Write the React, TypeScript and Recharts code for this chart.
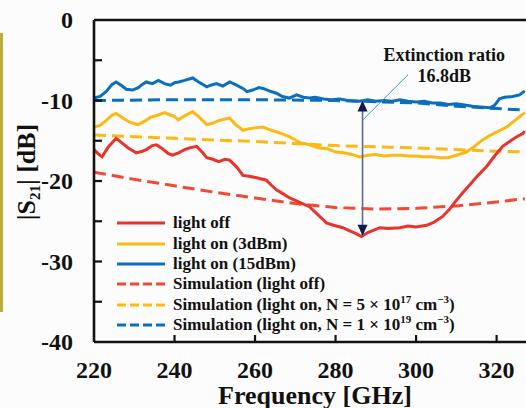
import React from 'react';
import { LineChart, Line, XAxis, YAxis, ReferenceLine, ReferenceDot } from 'recharts';

const FONT = "'Liberation Serif', 'Times New Roman', serif";

const xTicks = [220, 240, 260, 280, 300, 320];
const yTicks = [-40, -35, -30, -25, -20, -15, -10, -5, 0];

const blueSolid: [number, number][] = [
  [220, -9.7], [221.5, -9.5], [223, -8.9], [224.5, -8.0], [225.5, -7.7], [227, -8.2], [228, -8.6], [229.6, -8.7],
  [231, -8.4], [232, -8.0], [233, -7.7], [234.5, -7.9], [236, -7.5], [237.5, -7.9], [239, -8.1], [240, -7.8],
  [241, -7.7], [242.5, -7.5], [244.5, -7.2], [246, -7.7], [248, -8.3], [249, -8.1], [250.4, -7.9], [252, -8.2],
  [253.7, -7.7], [255, -8.0], [257, -8.5], [258, -8.9], [259.4, -8.7], [261, -8.4], [262, -8.5], [263.5, -8.8],
  [265.3, -9.1], [266.8, -9.5], [268.5, -9.7], [270.3, -9.3], [272, -9.6], [273.5, -9.7], [275, -9.6], [277, -9.8],
  [279, -9.9], [281, -9.8], [283, -10.0], [286, -10.1], [288, -9.9], [290, -10.1], [292, -10.0], [294, -10.1],
  [296, -9.9], [298, -10.1], [300, -10.2], [302, -10.1], [304, -10.3], [306, -10.3], [308, -10.5], [310, -10.4],
  [312.5, -10.6], [314, -10.7], [316, -10.8], [318.3, -10.9], [319.5, -10.6], [320.7, -9.8], [322, -9.6],
  [324, -9.5], [325.7, -9.3], [327, -8.8],
];

const yellowSolid: [number, number][] = [
  [220, -13.3], [221.5, -13.1], [223, -12.5], [224.5, -11.8], [225.5, -11.6], [227, -12.1], [228.5, -12.6],
  [229.6, -12.8], [231, -13.0], [232.5, -12.6], [234, -12.1], [236, -11.8], [237.5, -11.5], [239, -11.8],
  [240, -12.0], [241, -12.4], [242.5, -11.9], [244.5, -11.4], [246, -12.0], [248, -13.0], [249.5, -12.8],
  [251, -12.5], [252.5, -12.3], [253.7, -12.2], [255, -12.9], [257, -13.7], [258.5, -13.5], [260, -13.4],
  [262, -13.3], [264, -13.7], [266, -14.0], [268.5, -14.5], [270, -14.9], [271, -15.2], [273.5, -15.5],
  [276, -15.9], [278, -16.0], [280, -16.4], [282, -16.5], [284, -16.7], [286, -17.0], [288, -16.8], [290, -16.7],
  [292, -16.9], [294, -16.8], [296, -16.8], [298, -16.9], [300, -16.9], [302, -17.0], [304, -17.0], [306, -17.1],
  [308, -17.1], [310, -16.8], [312.5, -16.4], [314.5, -15.7], [316.5, -14.9], [318.5, -14.3], [320.5, -13.8],
  [322.5, -13.3], [324.5, -12.5], [326, -11.9], [327, -11.5],
];

const redSolid: [number, number][] = [
  [220, -16.1], [221, -16.6], [222, -17.0], [223.5, -15.8], [225.5, -14.7], [227, -15.3], [228.5, -15.9],
  [230.5, -16.5], [232, -16.3], [233, -16.1], [234.5, -15.6], [235.5, -15.5], [237, -16.0], [238.5, -16.6],
  [239.5, -16.8], [241, -16.5], [242.5, -16.1], [243.7, -15.9], [245.5, -15.7], [247, -16.5], [248, -17.1],
  [249.5, -17.3], [251, -17.6], [252.5, -17.3], [253.7, -17.4], [255.5, -18.3], [257, -19.3], [258.5, -19.4],
  [260.4, -19.6], [262.8, -19.9], [264, -20.5], [265.3, -21.1], [267, -21.6], [268.6, -22.1], [270, -22.4],
  [271.8, -22.8], [273.5, -23.2], [275, -23.9], [276.5, -24.6], [277.7, -25.2], [279.5, -25.5], [281.8, -25.8],
  [283.5, -26.2], [285, -26.5], [286.4, -26.9], [288, -26.4], [289.5, -26.1], [291, -25.8], [293, -25.9],
  [296, -25.8], [298, -25.6], [300, -25.7], [302.6, -25.5], [304.5, -25.1], [306.6, -24.4], [308.3, -23.5],
  [310, -22.4], [311.7, -21.4], [313.3, -20.5], [315.4, -19.3], [317.5, -18.2], [319.5, -16.9], [321.5, -15.7],
  [323.5, -15.0], [325, -14.5], [326.5, -14.1], [327, -13.8],
];

const redSim: [number, number][] = [
  [220, -18.9], [230, -19.8], [240, -20.6], [250, -21.4], [260, -22.1], [270, -22.8], [280, -23.3],
  [290, -23.5], [300, -23.4], [310, -23.1], [320, -22.6], [327, -22.2],
];
const yellowSim: [number, number][] = [
  [220, -14.3], [240, -14.7], [260, -15.1], [280, -15.6], [300, -15.9], [320, -16.3], [327, -16.4],
];
const blueSim: [number, number][] = [
  [220, -10.0], [240, -9.9], [260, -9.9], [280, -10.0], [300, -10.3], [310, -10.7], [320, -11.0], [327, -11.2],
];

const arrowFreq = 286.7;
const arrowTop = -10.0;
const arrowBottom = -26.8;
const leaderStart = { x: 286.8, y: -12.4 };
const leaderEnd = { x: 298.0, y: -6.8 };
const annoPos = { x: 307, line1: -5.1, line2: -7.7 };

const toRows = (arr: [number, number][]) => arr.map(([f, v]) => ({ f, v }));

const RED = '#e8342a';
const RED_D = '#ef4a35';
const YEL = '#fdb913';
const BLUE = '#0b6fbf';

const XTick = (props: any) => {
  const { x, y, payload } = props;
  return (
    <g>
      {payload.value !== 220 && (
        <line x1={x} x2={x} y1={y} y2={y - 7} stroke="#111" strokeWidth={2.2} />
      )}
      <text x={x} y={y + 36} textAnchor="middle" fontFamily={FONT} fontWeight="bold" fontSize={24} fill="#111">
        {payload.value}
      </text>
    </g>
  );
};

const YTick = (props: any) => {
  const { x, y, payload } = props;
  const v = payload.value;
  return (
    <g>
      {v !== -40 && v !== 0 && <line x1={x} x2={x + 8} y1={y} y2={y} stroke="#111" strokeWidth={2.2} />}
      {v % 10 === 0 && (
        <text x={x - 21} y={y + 8} textAnchor="end" fontFamily={FONT} fontWeight="bold" fontSize={24} fill="#111">
          {v}
        </text>
      )}
    </g>
  );
};

const XLabel = (props: any) => {
  const vb = props.viewBox;
  return (
    <text x={vb.x + vb.width / 2 + 5} y={vb.y + 62} textAnchor="middle" fontFamily={FONT} fontWeight="bold" fontSize={26} fill="#111">
      Frequency [GHz]
    </text>
  );
};

const YLabel = (props: any) => {
  const vb = props.viewBox;
  const cx = vb.x + 35;
  const cy = vb.y + vb.height / 2 - 9;
  return (
    <text transform={`translate(${cx},${cy}) rotate(-90)`} textAnchor="middle" fontFamily={FONT} fontWeight="bold" fontSize={26} fill="#111">
      |S<tspan fontSize={15} dy={5}>21</tspan><tspan dy={-5}>| [dB]</tspan>
    </text>
  );
};

const supStyle: React.CSSProperties = { fontSize: 11, lineHeight: 0, verticalAlign: 'super' };

const legendItems = [
  { color: RED, dash: false, label: <>light off</> },
  { color: YEL, dash: false, label: <>light on (3dBm)</> },
  { color: BLUE, dash: false, label: <>light on (15dBm)</> },
  { color: RED_D, dash: true, label: <>Simulation (light off)</> },
  {
    color: YEL, dash: true,
    label: <>Simulation (light on, N = 5 × 10<sup style={supStyle}>17</sup> cm<sup style={supStyle}>−3</sup>)</>,
  },
  {
    color: BLUE, dash: true,
    label: <>Simulation (light on, N = 1 × 10<sup style={supStyle}>19</sup> cm<sup style={supStyle}>−3</sup>)</>,
  },
];

const LegendBox = () => (
  <div style={{ position: 'absolute', left: 117, top: 213, fontFamily: FONT, fontWeight: 'bold', fontSize: 17, color: '#111' }}>
    {legendItems.map((it, i) => (
      <div key={i} style={{ display: 'flex', alignItems: 'center', height: 20.4, lineHeight: '20px', whiteSpace: 'nowrap' }}>
        <svg width={56} height={8} style={{ flex: 'none' }}>
          <line x1={0} x2={48} y1={4} y2={4} stroke={it.color} strokeWidth={3.2} strokeDasharray={it.dash ? '9 4' : undefined} />
        </svg>
        <span>{it.label}</span>
      </div>
    ))}
  </div>
);

const ArrowUp = (props: any) => {
  const { cx, cy } = props;
  return <polygon points={`${cx},${cy} ${cx - 5},${cy + 11} ${cx + 5},${cy + 11}`} fill="#0f1a4d" />;
};
const ArrowDown = (props: any) => {
  const { cx, cy } = props;
  return <polygon points={`${cx},${cy} ${cx - 5},${cy - 11} ${cx + 5},${cy - 11}`} fill="#0f1a4d" />;
};
const AnnoText = (text: string) => (props: any) => {
  const { cx, cy } = props;
  return (
    <text x={cx} y={cy} textAnchor="middle" fontFamily={FONT} fontWeight="bold" fontSize={18} fill="#111">
      {text}
    </text>
  );
};

export default function App() {
  return (
    <div style={{ position: 'absolute', left: 0, top: 0, width: 526, height: 408, background: '#fcfcfd' }}>
      <div style={{ position: 'absolute', left: 0, top: 33, width: 2.5, height: 279, background: '#b7ae3e' }} />
      <LineChart width={526} height={408} margin={{ top: 20, right: 0, bottom: 0, left: 0 }}>
        <XAxis
          type="number"
          dataKey="f"
          domain={[220, 327.3]}
          allowDataOverflow
          ticks={xTicks}
          interval={0}
          height={66}
          tickSize={0}
          tickMargin={0}
          tickLine={false}
          tick={<XTick />}
          axisLine={{ stroke: '#111', strokeWidth: 2.6 }}
          label={<XLabel />}
        />
        <YAxis
          type="number"
          domain={[-40, 0]}
          allowDataOverflow
          ticks={yTicks}
          interval={0}
          width={94}
          tickSize={0}
          tickMargin={0}
          tickLine={false}
          tick={<YTick />}
          axisLine={{ stroke: '#111', strokeWidth: 2.6 }}
          label={<YLabel />}
        />
        <ReferenceLine y={0} stroke="#111" strokeWidth={2.6} />
        <Line data={toRows(redSim)} dataKey="v" stroke={RED_D} strokeWidth={3} strokeDasharray="12 6" dot={false} isAnimationActive={false} />
        <Line data={toRows(yellowSim)} dataKey="v" stroke={YEL} strokeWidth={3} strokeDasharray="12 6" dot={false} isAnimationActive={false} />
        <Line data={toRows(blueSim)} dataKey="v" stroke={BLUE} strokeWidth={3} strokeDasharray="12 6" dot={false} isAnimationActive={false} />
        <Line data={toRows(redSolid)} dataKey="v" stroke={RED} strokeWidth={3} dot={false} isAnimationActive={false} />
        <Line data={toRows(yellowSolid)} dataKey="v" stroke={YEL} strokeWidth={3} dot={false} isAnimationActive={false} />
        <Line data={toRows(blueSolid)} dataKey="v" stroke={BLUE} strokeWidth={3} dot={false} isAnimationActive={false} />
        <ReferenceLine
          segment={[{ x: arrowFreq, y: arrowTop }, { x: arrowFreq, y: arrowBottom }]}
          stroke="#5b6890"
          strokeWidth={1.6}
        />
        <ReferenceLine segment={[leaderStart, leaderEnd]} stroke="#3d8fd3" strokeWidth={1} />
        <ReferenceDot x={arrowFreq} y={arrowTop} r={0} shape={ArrowUp} />
        <ReferenceDot x={arrowFreq} y={arrowBottom} r={0} shape={ArrowDown} />
        <ReferenceDot x={annoPos.x} y={annoPos.line1} r={0} shape={AnnoText('Extinction ratio')} />
        <ReferenceDot x={annoPos.x} y={annoPos.line2} r={0} shape={AnnoText('16.8dB')} />
      </LineChart>
      <LegendBox />
    </div>
  );
}
